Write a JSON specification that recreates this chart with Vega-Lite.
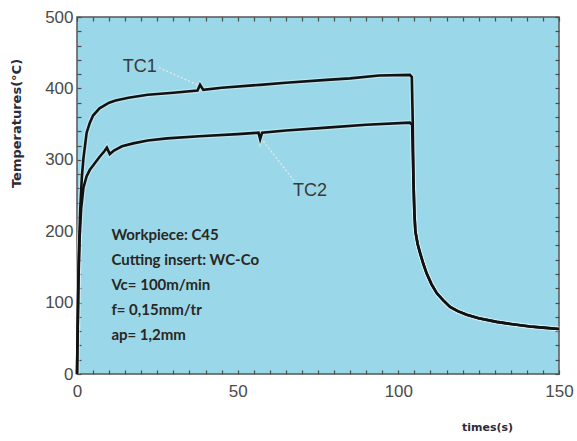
{
  "$schema": "https://vega.github.io/schema/vega-lite/v6.json",
  "autosize": {"type": "none"},
  "width": 482,
  "height": 357,
  "padding": {"left": 77, "top": 17, "right": 18, "bottom": 67},
  "background": "white",
  "config": {
    "view": {"fill": "#9ad8e9", "stroke": "#555555", "strokeWidth": 1.5},
    "axis": {
      "labelFont": "Liberation Sans",
      "labelFontSize": 17,
      "labelColor": "#4a4a4a",
      "labelFlush": false,
      "titleFont": "DejaVu Sans",
      "titleFontWeight": "bold",
      "titleColor": "#2b2b3a",
      "domain": false,
      "grid": false,
      "tickColor": "#4d4d4d",
      "tickWidth": 1.2
    }
  },
  "datasets": {
    "curves": [
      {"series": "TC1", "t": 0, "temp": 0},
      {"series": "TC1", "t": 0.5, "temp": 150},
      {"series": "TC1", "t": 1, "temp": 230},
      {"series": "TC1", "t": 1.5, "temp": 275},
      {"series": "TC1", "t": 2, "temp": 302},
      {"series": "TC1", "t": 3, "temp": 338},
      {"series": "TC1", "t": 4, "temp": 352},
      {"series": "TC1", "t": 5, "temp": 362},
      {"series": "TC1", "t": 7, "temp": 372},
      {"series": "TC1", "t": 10, "temp": 380},
      {"series": "TC1", "t": 12, "temp": 383},
      {"series": "TC1", "t": 16, "temp": 387},
      {"series": "TC1", "t": 22, "temp": 391},
      {"series": "TC1", "t": 30, "temp": 394},
      {"series": "TC1", "t": 37.5, "temp": 397},
      {"series": "TC1", "t": 38.3, "temp": 405},
      {"series": "TC1", "t": 39.3, "temp": 398},
      {"series": "TC1", "t": 45, "temp": 401},
      {"series": "TC1", "t": 57, "temp": 405},
      {"series": "TC1", "t": 65, "temp": 408},
      {"series": "TC1", "t": 77.7, "temp": 412},
      {"series": "TC1", "t": 85, "temp": 414},
      {"series": "TC1", "t": 94, "temp": 418},
      {"series": "TC1", "t": 103.6, "temp": 419},
      {"series": "TC1", "t": 104.2, "temp": 416},
      {"series": "TC1", "t": 104.5, "temp": 350},
      {"series": "TC1", "t": 104.7, "temp": 272},
      {"series": "TC1", "t": 105, "temp": 225},
      {"series": "TC1", "t": 105.3, "temp": 200},
      {"series": "TC1", "t": 106, "temp": 182},
      {"series": "TC1", "t": 106.8, "temp": 169},
      {"series": "TC1", "t": 107.8, "temp": 154},
      {"series": "TC1", "t": 108.8, "temp": 141},
      {"series": "TC1", "t": 110.3, "temp": 126},
      {"series": "TC1", "t": 112, "temp": 113},
      {"series": "TC1", "t": 114, "temp": 103},
      {"series": "TC1", "t": 116.1, "temp": 94},
      {"series": "TC1", "t": 118.5, "temp": 88},
      {"series": "TC1", "t": 121.3, "temp": 83},
      {"series": "TC1", "t": 125, "temp": 78},
      {"series": "TC1", "t": 130.6, "temp": 73},
      {"series": "TC1", "t": 135, "temp": 70},
      {"series": "TC1", "t": 141, "temp": 66.5},
      {"series": "TC1", "t": 145, "temp": 65},
      {"series": "TC1", "t": 150, "temp": 63},
      {"series": "TC2", "t": 0, "temp": 0},
      {"series": "TC2", "t": 0.4, "temp": 120},
      {"series": "TC2", "t": 0.8, "temp": 190},
      {"series": "TC2", "t": 1.3, "temp": 232},
      {"series": "TC2", "t": 2, "temp": 261},
      {"series": "TC2", "t": 3, "temp": 277},
      {"series": "TC2", "t": 4, "temp": 286},
      {"series": "TC2", "t": 5, "temp": 292},
      {"series": "TC2", "t": 7, "temp": 304},
      {"series": "TC2", "t": 8.5, "temp": 312},
      {"series": "TC2", "t": 9.3, "temp": 317},
      {"series": "TC2", "t": 10.2, "temp": 308},
      {"series": "TC2", "t": 11.5, "temp": 313},
      {"series": "TC2", "t": 14, "temp": 319},
      {"series": "TC2", "t": 17.5, "temp": 323},
      {"series": "TC2", "t": 22, "temp": 327},
      {"series": "TC2", "t": 28, "temp": 330},
      {"series": "TC2", "t": 38, "temp": 333},
      {"series": "TC2", "t": 50, "temp": 336},
      {"series": "TC2", "t": 56.5, "temp": 338},
      {"series": "TC2", "t": 57, "temp": 329},
      {"series": "TC2", "t": 57.6, "temp": 338},
      {"series": "TC2", "t": 65, "temp": 341},
      {"series": "TC2", "t": 77.7, "temp": 345},
      {"series": "TC2", "t": 90, "temp": 349},
      {"series": "TC2", "t": 103.6, "temp": 352},
      {"series": "TC2", "t": 104.3, "temp": 349},
      {"series": "TC2", "t": 104.7, "temp": 272},
      {"series": "TC2", "t": 105, "temp": 225},
      {"series": "TC2", "t": 105.3, "temp": 200},
      {"series": "TC2", "t": 106, "temp": 182},
      {"series": "TC2", "t": 106.8, "temp": 169},
      {"series": "TC2", "t": 107.8, "temp": 154},
      {"series": "TC2", "t": 108.8, "temp": 141},
      {"series": "TC2", "t": 110.3, "temp": 126},
      {"series": "TC2", "t": 112, "temp": 113},
      {"series": "TC2", "t": 114, "temp": 103},
      {"series": "TC2", "t": 116.1, "temp": 94},
      {"series": "TC2", "t": 118.5, "temp": 88},
      {"series": "TC2", "t": 121.3, "temp": 83},
      {"series": "TC2", "t": 125, "temp": 78},
      {"series": "TC2", "t": 130.6, "temp": 73},
      {"series": "TC2", "t": 135, "temp": 70},
      {"series": "TC2", "t": 141, "temp": 66.5},
      {"series": "TC2", "t": 145, "temp": 65},
      {"series": "TC2", "t": 150, "temp": 63}
    ],
    "leaders": [
      {"series": "TC1", "t": 25.5, "temp": 429},
      {"series": "TC1", "t": 38, "temp": 404},
      {"series": "TC2", "t": 58, "temp": 326},
      {"series": "TC2", "t": 67.5, "temp": 271}
    ],
    "curveLabels": [
      {"label": "TC1", "t": 19.5, "temp": 430},
      {"label": "TC2", "t": 72.5, "temp": 256}
    ],
    "conditions": [
      {"line": "Workpiece: C45", "t": 10.7, "temp": 195},
      {"line": "Cutting insert: WC-Co", "t": 10.7, "temp": 160},
      {"line": "Vc= 100m/min", "t": 10.7, "temp": 125},
      {"line": "f= 0,15mm/tr", "t": 10.7, "temp": 90},
      {"line": "ap= 1,2mm", "t": 10.7, "temp": 55}
    ]
  },
  "resolve": {
    "scale": {"x": "shared", "y": "shared"},
    "axis": {"x": "independent", "y": "independent"}
  },
  "layer": [
    {
      "data": {"name": "curves"},
      "mark": {"type": "line", "stroke": "#ffffff", "strokeWidth": 5, "opacity": 0.35},
      "encoding": {
        "x": {
          "field": "t", "type": "quantitative",
          "scale": {"domain": [0, 150], "nice": false},
          "axis": {
            "orient": "bottom",
            "values": [0,5,10,15,20,25,30,35,40,45,50,55,60,65,70,75,80,85,90,95,100,105,110,115,120,125,130,135,140,145,150],
            "labelExpr": "datum.value % 50 === 0 ? datum.label : ''",
            "tickSize": -4,
            "labelPadding": 21,
            "labelBaseline": "middle",
            "title": "times(s)",
            "titleFontSize": 11,
            "titleX": 410,
            "titleY": 53,
            "titleAlign": "center",
            "titleBaseline": "middle"
          }
        },
        "y": {
          "field": "temp", "type": "quantitative",
          "scale": {"domain": [0, 500], "nice": false},
          "axis": {
            "orient": "left",
            "values": [0,20,40,60,80,100,120,140,160,180,200,220,240,260,280,300,320,340,360,380,400,420,440,460,480,500],
            "labelExpr": "datum.value % 100 === 0 ? datum.label : ''",
            "tickSize": -4,
            "labelPadding": 8,
            "title": "Temperatures(°C)",
            "titleFontSize": 13,
            "titleAngle": -90,
            "titleX": -61,
            "titleY": 106,
            "titleAlign": "center",
            "titleBaseline": "middle"
          }
        },
        "detail": {"field": "series"}
      }
    },
    {
      "data": {"name": "curves"},
      "mark": {"type": "line", "stroke": "#111111", "strokeWidth": 2.6},
      "encoding": {
        "x": {
          "field": "t", "type": "quantitative",
          "axis": {
            "orient": "top",
            "values": [0,5,10,15,20,25,30,35,40,45,50,55,60,65,70,75,80,85,90,95,100,105,110,115,120,125,130,135,140,145,150],
            "labels": false,
            "tickSize": -4,
            "title": null
          }
        },
        "y": {
          "field": "temp", "type": "quantitative",
          "axis": {
            "orient": "right",
            "values": [0,20,40,60,80,100,120,140,160,180,200,220,240,260,280,300,320,340,360,380,400,420,440,460,480,500],
            "labels": false,
            "tickSize": -4,
            "title": null
          }
        },
        "detail": {"field": "series"}
      }
    },
    {
      "data": {"name": "leaders"},
      "mark": {"type": "line", "stroke": "#e8e8e8", "strokeWidth": 1.3, "strokeDash": [2, 2]},
      "encoding": {
        "x": {"field": "t", "type": "quantitative", "axis": null},
        "y": {"field": "temp", "type": "quantitative", "axis": null},
        "detail": {"field": "series"}
      }
    },
    {
      "data": {"name": "curveLabels"},
      "mark": {"type": "text", "font": "Liberation Sans", "fontSize": 18, "fill": "#3a3a3a", "align": "center", "baseline": "middle"},
      "encoding": {
        "x": {"field": "t", "type": "quantitative", "axis": null},
        "y": {"field": "temp", "type": "quantitative", "axis": null},
        "text": {"field": "label"}
      }
    },
    {
      "data": {"name": "conditions"},
      "mark": {"type": "text", "font": "Lato", "fontWeight": "bold", "fontSize": 15, "fill": "#2a2622", "align": "left", "baseline": "middle"},
      "encoding": {
        "x": {"field": "t", "type": "quantitative", "axis": null},
        "y": {"field": "temp", "type": "quantitative", "axis": null},
        "text": {"field": "line"}
      }
    }
  ]
}
